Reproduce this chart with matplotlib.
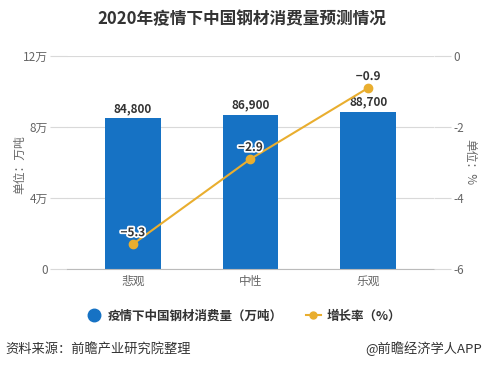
import matplotlib
matplotlib.use("Agg")
import matplotlib.pyplot as plt
import matplotlib.patheffects as pe
from matplotlib.lines import Line2D

plt.rcParams['font.family'] = ['Noto Sans CJK SC', 'DejaVu Sans']
plt.rcParams['axes.unicode_minus'] = False

categories = ["悲观", "中性", "乐观"]
consumption = [84800, 86900, 88700]
growth = [-5.3, -2.9, -0.9]
left_ticks = [0, 40000, 80000, 120000]
left_ticklabels = ["0", "4万", "8万", "12万"]
right_ticks = [-6, -4, -2, 0]

blue = "#1672C4"
orange = "#E9AE2F"
gray = "#666666"

fig = plt.figure(figsize=(4.85, 3.69), dpi=100)
ax = fig.add_axes([67/485, 1-269/369, (434-67)/485, (269-56)/369])
x = list(range(len(categories)))
ax.bar(x, consumption, width=0.47, color=blue, zorder=2)
ax.set_ylim(0, 120000)
ax.set_xlim(-0.56, 2.56)
ax.set_yticks(left_ticks)
ax.set_yticklabels(left_ticklabels, color=gray, fontsize=8.5)
ax.set_xticks(x)
ax.set_xticklabels(categories, color=gray, fontsize=8.5)
ax.grid(axis='y', color='#d9d9d9', linewidth=0.8, zorder=0)
for s in ['top', 'right', 'left']:
    ax.spines[s].set_visible(False)
ax.spines['bottom'].set_color('#bbbbbb')
ax.tick_params(axis='y', length=12, color='#d9d9d9', pad=2)
ax.tick_params(axis='x', length=0, pad=4)
for xi, v in zip(x, consumption):
    ax.text(xi, v + 2000, f"{v:,}", ha='center', va='bottom', fontsize=8.5,
            fontweight='bold', color='#333333', zorder=5)

ax2 = ax.twinx()
ax2.set_ylim(-6, 0)
ax2.set_yticks(right_ticks)
ax2.set_yticklabels([str(t) for t in right_ticks], color=gray, fontsize=8.5)
for s in ['top', 'right', 'left', 'bottom']:
    ax2.spines[s].set_visible(False)
ax2.tick_params(axis='y', length=12, color='#d9d9d9', pad=2)
ax2.plot(x, growth, color=orange, linewidth=1.5, marker='o', markersize=6, zorder=4)
for xi, v in zip(x, growth):
    ax2.text(xi, v + 0.14, f"\u2212{abs(v)}", ha='center', va='bottom', fontsize=8.5,
             fontweight='bold', color='#333333', zorder=6,
             path_effects=[pe.withStroke(linewidth=2.5, foreground='white')])

fig.text(20/485, 1-165/369, "单位：万吨", rotation=90, ha='center', va='center', color=gray, fontsize=8.5)
fig.text(470/485, 1-162/369, "单位：%", rotation=-90, ha='center', va='center', color=gray, fontsize=8.5)

fig.text(242/485, 1-19/369, "2020年疫情下中国钢材消费量预测情况", ha='center', va='center',
         fontsize=12, fontweight='bold', color='#333333')

handles = [Line2D([0], [0], marker='o', color='none', markerfacecolor=blue, markeredgecolor=blue, markersize=9),
           Line2D([0], [0], marker='o', color=orange, markersize=5, linewidth=1.5)]
fig.legend(handles, ["疫情下中国钢材消费量（万吨）", "增长率（%）"], loc='center', bbox_to_anchor=(244/485, 1-316/369),
           ncol=2, frameon=False, prop={'size': 9, 'weight': 'bold'}, handlelength=1.2, columnspacing=1.8,
           handletextpad=0.5, labelcolor='#333333')

fig.text(5/485, 1-349/369, "资料来源：前瞻产业研究院整理", ha='left', va='center', fontsize=9.5, color='#333333')
fig.text(482/485, 1-349/369, "@前瞻经济学人APP", ha='right', va='center', fontsize=9.5, color='#333333')

fig.savefig("out.png", dpi=100)
